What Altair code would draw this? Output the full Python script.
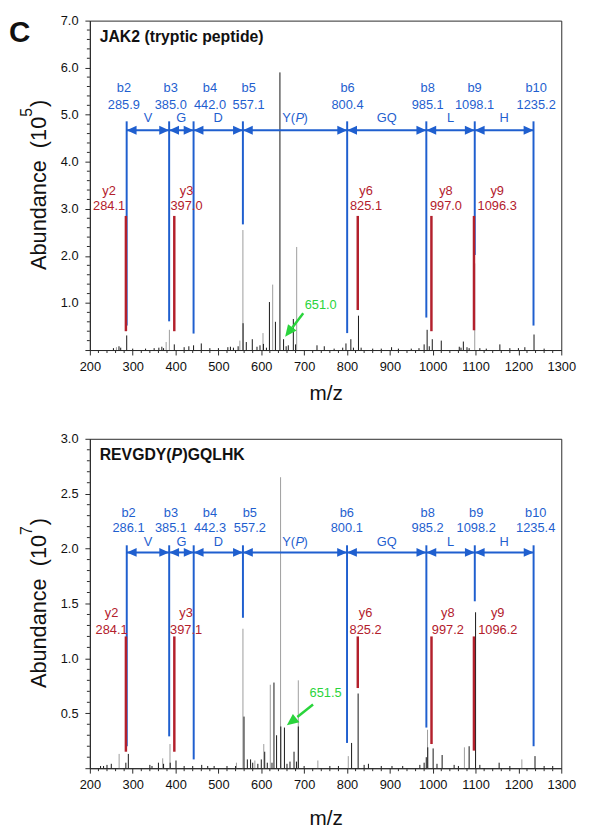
import altair as alt
import pandas as pd

FONT = "Liberation Sans"
BLUE = "#1f5fcf"
RED = "#b3202c"
GREEN = "#2ad43c"
GREY = "#9c9c9c"
BLACK = "#151515"
AX = "#2a2a2a"
W, H = 478, 334

# ---------------- top panel: JAK2 (tryptic peptide), abundance x 1e5 ----------------
top_title = "JAK2 (tryptic peptide)"
top_yexp = "5"
top_ymax = 7.0
top_grey_mz = [262, 378, 385.6, 550, 557.1, 604, 626.6, 682.6, 1098.1]
top_grey_h = [0.06, 0.17, 0.43, 0.20, 2.55, 0.36, 1.39, 2.19, 1.84]
top_black_mz = [255, 268, 272, 286, 300, 330, 350, 361, 368, 372, 397, 420, 431, 442, 460,
                480, 500, 522, 528, 535, 546, 557.5, 565, 579, 590, 597, 605, 612, 619, 633,
                643.5, 652, 658, 663, 674.8, 680, 730, 747, 770, 790, 797.6, 809, 815, 826.8,
                833, 860, 880, 904, 920, 950, 968, 980, 987, 992, 999, 1020, 1062, 1066,
                1071.5, 1080, 1085, 1110, 1125, 1156.7, 1180, 1200, 1215, 1236.4, 1260]
top_black_h = [0.04, 0.08, 0.05, 0.31, 0.03, 0.03, 0.04, 0.05, 0.07, 0.04, 0.12, 0.06, 0.08, 0.10, 0.14,
               0.04, 0.04, 0.06, 0.07, 0.05, 0.08, 0.57, 0.17, 0.23, 0.07, 0.10, 0.13, 0.05, 1.02, 0.60,
               5.90, 0.23, 0.08, 0.10, 0.66, 0.12, 0.10, 0.08, 0.03, 0.05, 0.14, 0.23, 0.05, 0.73,
               0.05, 0.03, 0.03, 0.06, 0.03, 0.03, 0.04, 0.12, 0.43, 0.08, 0.23, 0.20, 0.07, 0.05,
               0.18, 0.06, 0.04, 0.04, 0.03, 0.12, 0.04, 0.04, 0.06, 0.33, 0.03]
top_b_names = ["b2", "b3", "b4", "b5", "b6", "b8", "b9", "b10"]
top_b_mz = [285.9, 385.0, 442.0, 557.1, 800.4, 985.1, 1098.1, 1235.2]
top_b_low = [0.52, 0.61, 0.35, 2.67, 0.36, 0.69, 2.02, 0.52]
top_b_label_mz = [279.4, 388.7, 480.3, 570.5, 801.2, 988.3, 1097.6, 1241.4]
top_y_names = ["y2", "y3", "y6", "y8", "y9"]
top_y_mz = [284.1, 397.0, 825.1, 997.0, 1096.3]
top_y_low = [0.40, 0.40, 0.85, 0.40, 0.42]
top_y_label_mz = [244.9, 425.5, 844.4, 1030.8, 1150.5]
top_green_mz = [697.9, 655.7]      # tail, tip
top_green_h = [0.78, 0.28]
top_green_label = ["651.0"]
top_green_label_mz = [738.6]
top_green_label_h = [0.96]
top_levels = {"bname": 5.56, "bmass": 5.21, "aa": 4.92, "arrow": 4.67, "btop": 4.86,
              "yname": 3.375, "ymass": 3.07, "ytop": 2.85}

# ---------------- bottom panel: REVGDY(P)GQLHK, abundance x 1e7 ----------------
bot_yexp = "7"
bot_ymax = 3.0
bot_grey_mz = [268.3, 370, 387, 542, 557.2, 585, 605.8, 621, 645, 686.4, 732, 803, 987.9, 1074, 1208]
bot_grey_h = [0.13, 0.09, 0.22, 0.05, 1.27, 0.07, 0.22, 0.76, 2.65, 0.80, 0.07, 0.11, 0.35, 0.19, 0.08]
bot_black_mz = [225, 232, 240, 250, 284, 289.8, 340, 345, 360, 372, 387.5, 401, 420, 440, 461, 475,
                490, 520, 540, 559.7, 567.5, 575, 580, 592, 600, 608, 614, 625, 629.6, 635.7,
                645.5, 654, 660, 667, 676.4, 682, 686.4, 700, 760, 780, 810.7, 826, 840, 850,
                880, 905, 930, 970, 980, 985, 988.5, 1001, 1010, 1022, 1050, 1060, 1085, 1100,
                1110, 1155, 1180, 1238.7, 1260, 1280]
bot_black_h = [0.02, 0.02, 0.03, 0.04, 0.05, 0.13, 0.03, 0.02, 0.05, 0.04, 0.05, 0.07, 0.02, 0.02, 0.03, 0.02,
               0.02, 0.02, 0.02, 0.47, 0.08, 0.08, 0.05, 0.04, 0.08, 0.15, 0.05, 0.05, 0.78, 0.30,
               0.38, 0.37, 0.04, 0.06, 0.15, 0.06, 0.38, 0.02, 0.02, 0.02, 0.23, 0.68, 0.03, 0.04,
               0.02, 0.02, 0.02, 0.03, 0.05, 0.10, 0.19, 0.18, 0.04, 0.12, 0.03, 0.02, 0.20, 1.42,
               0.03, 0.05, 0.02, 0.11, 0.02, 0.02]
bot_b_names = ["b2", "b3", "b4", "b5", "b6", "b8", "b9", "b10"]
bot_b_mz = [286.1, 385.1, 442.3, 557.2, 800.1, 985.2, 1098.2, 1235.4]
bot_b_low = [0.20, 0.29, 0.08, 1.37, 0.23, 0.37, 1.52, 0.20]
bot_b_label_mz = [290.2, 389.2, 480.3, 573.3, 799.5, 988.2, 1101.4, 1240.3]
bot_y_names = ["y2", "y3", "y6", "y8", "y9"]
bot_y_mz = [284.1, 397.1, 825.2, 997.2, 1096.2]
bot_y_low = [0.15, 0.15, 0.73, 0.22, 0.16]
bot_y_label_mz = [250.6, 424.6, 843.3, 1035.4, 1151.7]
bot_green_mz = [720.8, 659.6]
bot_green_h = [0.58, 0.39]
bot_green_label = ["651.5"]
bot_green_label_mz = [750.0]
bot_green_label_h = [0.68]
bot_levels = {"bname": 2.324, "bmass": 2.19, "aa": 2.055, "arrow": 1.965, "btop": 2.03,
              "yname": 1.41, "ymass": 1.26, "ytop": 1.20}

# shared residue labels between b ions
aa_labels = ["V", "G", "D", "Y(P)", "GQ", "L", "H"]

RIGHT_HEAD = "M0,0 L-1,-0.45 L-1,0.45 Z"
LEFT_HEAD = "M0,0 L1,-0.45 L1,0.45 Z"

XS = alt.Scale(domain=[200, 1300], nice=False, zero=False)


def label(text, x, y, size, **kw):
    kw.setdefault("align", "left")
    kw.setdefault("color", "#111")
    return alt.Chart(pd.DataFrame({"t": [text]})).mark_text(fontSize=size, **kw).encode(
        text="t:N", x=alt.value(x), y=alt.value(y))


def y_title(exp):
    # "Abundance  (10" + superscript + ")", written bottom-to-top
    main_w = 7.06 * 22
    sup_w = 0.556 * 16
    close_w = 0.333 * 22
    y0 = H / 2 + (main_w + sup_w + close_w) / 2
    return [
        label("Abundance\u00a0 (10", -44, y0, 22, angle=270, baseline="alphabetic"),
        label(exp, -59, y0 - main_w, 16, angle=270, baseline="alphabetic"),
        label(")", -44, y0 - main_w - sup_w - 1, 22, angle=270, baseline="alphabetic"),
    ]


def panel(grey_mz, grey_h, black_mz, black_h, b_names, b_mz, b_low, b_lab_mz,
          y_names, y_mz, y_low, y_lab_mz, g_mz, g_h, g_lab, g_lab_mz, g_lab_h,
          lv, ymax, y_major, y_minor, yexp, angle, xtitle_y, title_layers):
    YS = alt.Scale(domain=[0, ymax], nice=False, zero=True)
    x_axis = alt.Axis(values=list(range(200, 1301, 100)), format="d", title="m/z",
                      tickSize=5, labelPadding=6, titleFontSize=21, titleFontWeight="normal",
                      titleX=W / 2, titleY=xtitle_y, titleAlign="center",
                      titleBaseline="alphabetic", labelFlush=False)
    y_axis = alt.Axis(values=y_major,
                      labelExpr="datum.value == 0 ? '' : format(datum.value, '.1f')",
                      title=None, tickSize=5, labelPadding=7)

    def xq(field):
        return alt.X(field, type="quantitative", scale=XS, axis=x_axis)

    def yq(field):
        return alt.Y(field, type="quantitative", scale=YS, axis=y_axis)

    layers = []
    grey = alt.Chart(pd.DataFrame({"mz": grey_mz, "h": grey_h})).mark_rule(
        color=GREY, strokeWidth=1).encode(x=xq("mz"), y=yq("h"), y2=alt.datum(0))
    black = alt.Chart(pd.DataFrame({"mz": black_mz, "h": black_h})).mark_rule(
        color=BLACK, strokeWidth=1).encode(x=xq("mz"), y=yq("h"), y2=alt.datum(0))
    layers += [grey, black]

    # minor ticks
    minor_y = alt.Chart(pd.DataFrame({"v": y_minor})).mark_rule(color=AX, strokeWidth=1).encode(
        y=yq("v"), x=alt.value(-3), x2=alt.value(0))
    x_minor_vals = [v for v in range(200, 1301, 20) if v % 100]
    minor_x = alt.Chart(pd.DataFrame({"v": x_minor_vals})).mark_rule(color=AX, strokeWidth=1).encode(
        x=xq("v"), y=alt.value(H), y2=alt.value(H + 3))
    layers += [minor_y, minor_x]

    # b ions
    bdf = pd.DataFrame({"name": b_names, "mz": b_mz, "low": b_low, "lab": b_lab_mz,
                        "mass": [f"{v:.1f}" for v in b_mz]})
    bdf["top"] = lv["btop"]
    bdf["ln"] = lv["bname"]
    bdf["lm"] = lv["bmass"]
    layers.append(alt.Chart(bdf).mark_rule(color=BLUE, strokeWidth=2).encode(
        x=xq("mz"), y=yq("top"), y2="low"))
    layers.append(alt.Chart(bdf).mark_text(color=BLUE, fontSize=13, baseline="middle").encode(
        x=xq("lab"), y=yq("ln"), text="name:N"))
    layers.append(alt.Chart(bdf).mark_text(color=BLUE, fontSize=13, baseline="middle").encode(
        x=xq("lab"), y=yq("lm"), text="mass:N"))

    # residue arrows
    sdf = pd.DataFrame({"s": b_mz[:-1], "e": b_mz[1:], "aa": aa_labels})
    sdf["mid"] = (sdf["s"] + sdf["e"]) / 2
    sdf["lev"] = lv["arrow"]
    sdf["la"] = lv["aa"]
    layers.append(alt.Chart(sdf).mark_rule(color=BLUE, strokeWidth=2).encode(
        x=xq("s"), x2="e", y=yq("lev")))
    layers.append(alt.Chart(sdf).mark_point(shape=LEFT_HEAD, size=400, filled=True, opacity=1,
                                            color=BLUE, strokeWidth=0).encode(x=xq("s"), y=yq("lev")))
    layers.append(alt.Chart(sdf).mark_point(shape=RIGHT_HEAD, size=400, filled=True, opacity=1,
                                            color=BLUE, strokeWidth=0).encode(x=xq("e"), y=yq("lev")))
    plain = sdf[~sdf["aa"].str.contains(r"\(P\)")]
    phos = sdf[sdf["aa"].str.contains(r"\(P\)")].copy()
    layers.append(alt.Chart(plain).mark_text(color=BLUE, fontSize=13, baseline="middle").encode(
        x=xq("mid"), y=yq("la"), text="aa:N"))
    phos["a"] = phos["aa"].str.split("(").str[0] + "("
    phos["b"] = "P"
    phos["c"] = ")"
    layers.append(alt.Chart(phos).mark_text(color=BLUE, fontSize=13, baseline="middle",
                                            align="right").encode(x=xq("mid"), y=yq("la"), text="a:N"))
    layers.append(alt.Chart(phos).mark_text(color=BLUE, fontSize=13, baseline="middle", align="left",
                                            fontStyle="italic", dx=0.5).encode(
        x=xq("mid"), y=yq("la"), text="b:N"))
    layers.append(alt.Chart(phos).mark_text(color=BLUE, fontSize=13, baseline="middle", align="left",
                                            dx=8.7).encode(x=xq("mid"), y=yq("la"), text="c:N"))

    # y ions
    ydf = pd.DataFrame({"name": y_names, "mz": y_mz, "low": y_low, "lab": y_lab_mz,
                        "mass": [f"{v:.1f}" for v in y_mz]})
    ydf["top"] = lv["ytop"]
    ydf["ln"] = lv["yname"]
    ydf["lm"] = lv["ymass"]
    layers.append(alt.Chart(ydf).mark_rule(color=RED, strokeWidth=2.5).encode(
        x=xq("mz"), y=yq("top"), y2="low"))
    layers.append(alt.Chart(ydf).mark_text(color=RED, fontSize=13, baseline="middle").encode(
        x=xq("lab"), y=yq("ln"), text="name:N"))
    layers.append(alt.Chart(ydf).mark_text(color=RED, fontSize=13, baseline="middle").encode(
        x=xq("lab"), y=yq("lm"), text="mass:N"))

    # green arrow to the doubly charged precursor
    tail_mz, tip_mz = g_mz
    tail_h, tip_h = g_h
    gdf = pd.DataFrame({"x0": [tail_mz], "y0": [tail_h],
                        "x1": [tip_mz + 0.4 * (tail_mz - tip_mz)],
                        "y1": [tip_h + 0.4 * (tail_h - tip_h)],
                        "tx": [tip_mz], "ty": [tip_h]})
    layers.append(alt.Chart(gdf).mark_rule(color=GREEN, strokeWidth=2.5).encode(
        x=xq("x0"), x2="x1", y=yq("y0"), y2="y1"))
    layers.append(alt.Chart(gdf).mark_point(shape=RIGHT_HEAD, size=576, filled=True, opacity=1,
                                            color=GREEN, strokeWidth=0, angle=angle).encode(
        x=xq("tx"), y=yq("ty")))
    gl = pd.DataFrame({"t": g_lab, "x": g_lab_mz, "y": g_lab_h})
    layers.append(alt.Chart(gl).mark_text(color=GREEN, fontSize=13, baseline="middle").encode(
        x=xq("x"), y=yq("y"), text="t:N"))

    layers += y_title(yexp)
    layers += title_layers
    return alt.layer(*layers).properties(width=W, height=H)


top_titles = [
    label("C", -82, 22, 30, fontWeight="bold", baseline="alphabetic"),
    label(top_title, 10, 17, 16, fontWeight="bold", baseline="middle"),
]
bot_titles = [
    label("REVGDY(", 10, 16, 16, fontWeight="bold", baseline="middle"),
    label("P", 82.9, 16, 16, fontWeight="bold", fontStyle="italic", baseline="middle"),
    label(")GQLHK", 94.0, 16, 16, fontWeight="bold", baseline="middle"),
]

top_minor = [round(i * 0.2, 1) for i in range(36) if i % 5]
bot_minor = [round(i * 0.1, 1) for i in range(31) if i % 5]

top = panel(top_grey_mz, top_grey_h, top_black_mz, top_black_h, top_b_names, top_b_mz, top_b_low,
            top_b_label_mz, top_y_names, top_y_mz, top_y_low, top_y_label_mz, top_green_mz,
            top_green_h, top_green_label, top_green_label_mz, top_green_label_h, top_levels,
            top_ymax, [0, 1, 2, 3, 4, 5, 6, 7], top_minor, top_yexp, 127, 50, top_titles)
bottom = panel(bot_grey_mz, bot_grey_h, bot_black_mz, bot_black_h, bot_b_names, bot_b_mz, bot_b_low,
               bot_b_label_mz, bot_y_names, bot_y_mz, bot_y_low, bot_y_label_mz, bot_green_mz,
               bot_green_h, bot_green_label, bot_green_label_mz, bot_green_label_h, bot_levels,
               bot_ymax, [0, 0.5, 1.0, 1.5, 2.0, 2.5, 3.0], bot_minor, bot_yexp, 142, 57, bot_titles)

chart = alt.vconcat(top, bottom, spacing=28).properties(
    padding={"left": 0, "top": 0, "right": 5, "bottom": 5}
).configure(font=FONT).configure_view(stroke=AX, strokeWidth=1).configure_axis(
    grid=False, labelFont=FONT, titleFont=FONT, labelFontSize=13, labelColor="#111",
    titleColor="#111", domainColor=AX, tickColor=AX, domainWidth=1, tickWidth=1)

chart.save("out.html", embed_options={"renderer": "svg", "actions": False})
